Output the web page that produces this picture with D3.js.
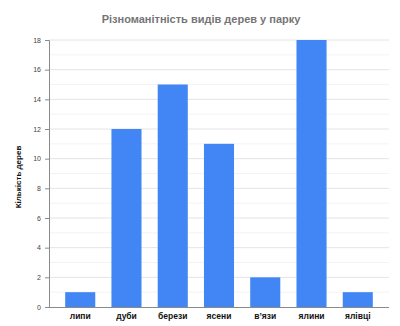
<!DOCTYPE html>
<html>
<head>
<meta charset="utf-8">
<script src="https://cdn.jsdelivr.net/npm/d3@7"></script>
<style>
  body { margin: 0; background: #fff; }
  svg { display: block; font-family: Arial, "Liberation Sans", sans-serif; }
</style>
</head>
<body>
<div id="chart"></div>
<script>
var categories = ['липи', 'дуби', 'берези', 'ясени', 'в\u2019язи', 'ялини', 'ялівці'];
var values = [1, 12, 15, 11, 2, 18, 1];
var yTicks = [0, 2, 4, 6, 8, 10, 12, 14, 16, 18];
var yMinor = [1, 3, 5, 7, 9, 11, 13, 15, 17];

var W = 400, H = 326;
// note: "top" is taken by window.top, so plot edges get their own names
var plotL = 49, plotR = 389, plotT = 40, plotB = 307;

var svg = d3.select('#chart').append('svg')
  .attr('width', W)
  .attr('height', H);

var x = d3.scaleBand().domain(categories).range([plotL, plotR]).padding(0.35);
var y = d3.scaleLinear().domain([0, 18]).range([plotB, plotT]);

// minor grid
svg.selectAll('.minor')
  .data(yMinor)
  .enter().append('line')
    .attr('x1', plotL).attr('x2', plotR)
    .attr('y1', function(d){ return y(d); })
    .attr('y2', function(d){ return y(d); })
    .attr('stroke', '#f3f3f3');

// major grid
svg.selectAll('.major')
  .data(yTicks.slice(1))
  .enter().append('line')
    .attr('x1', plotL).attr('x2', plotR)
    .attr('y1', function(d){ return y(d); })
    .attr('y2', function(d){ return y(d); })
    .attr('stroke', '#e4e4e4');

svg.selectAll('.bar')
  .data(values)
  .enter().append('rect')
    .attr('x', function(d, i){ return x(categories[i]); })
    .attr('width', x.bandwidth())
    .attr('y', function(d){ return y(d); })
    .attr('height', function(d){ return plotB - y(d); })
    .attr('fill', '#4285f4');

// y axis
var yAxis = svg.append('g')
  .attr('transform', 'translate(' + plotL + ',0)')
  .call(d3.axisLeft(y).tickValues(yTicks).tickSize(4).tickPadding(4));
yAxis.select('.domain').attr('stroke', '#8a8a8a');
yAxis.selectAll('.tick line').attr('stroke', '#8a8a8a');
yAxis.selectAll('.tick text').attr('fill', '#444').style('font-size', '7px');

// x axis
var xAxis = svg.append('g')
  .attr('transform', 'translate(0,' + plotB + ')')
  .call(d3.axisBottom(x).tickSize(0).tickPadding(6));
xAxis.select('.domain').attr('stroke', '#8a8a8a').attr('d', 'M' + plotL + ',0.5H' + plotR);
xAxis.selectAll('.tick text').attr('fill', '#111').style('font-size', '8.5px').style('font-weight', 'bold');

svg.append('text')
  .attr('x', 201).attr('y', 23)
  .attr('text-anchor', 'middle')
  .attr('fill', '#757575')
  .style('font-size', '11px')
  .style('font-weight', 'bold')
  .text('Різноманітність видів дерев у парку');

svg.append('text')
  .attr('transform', 'translate(21,177) rotate(-90)')
  .attr('text-anchor', 'middle')
  .attr('fill', '#111')
  .style('font-size', '8px')
  .style('font-weight', 'bold')
  .text('Кількість дерев');
</script>
</body>
</html>
